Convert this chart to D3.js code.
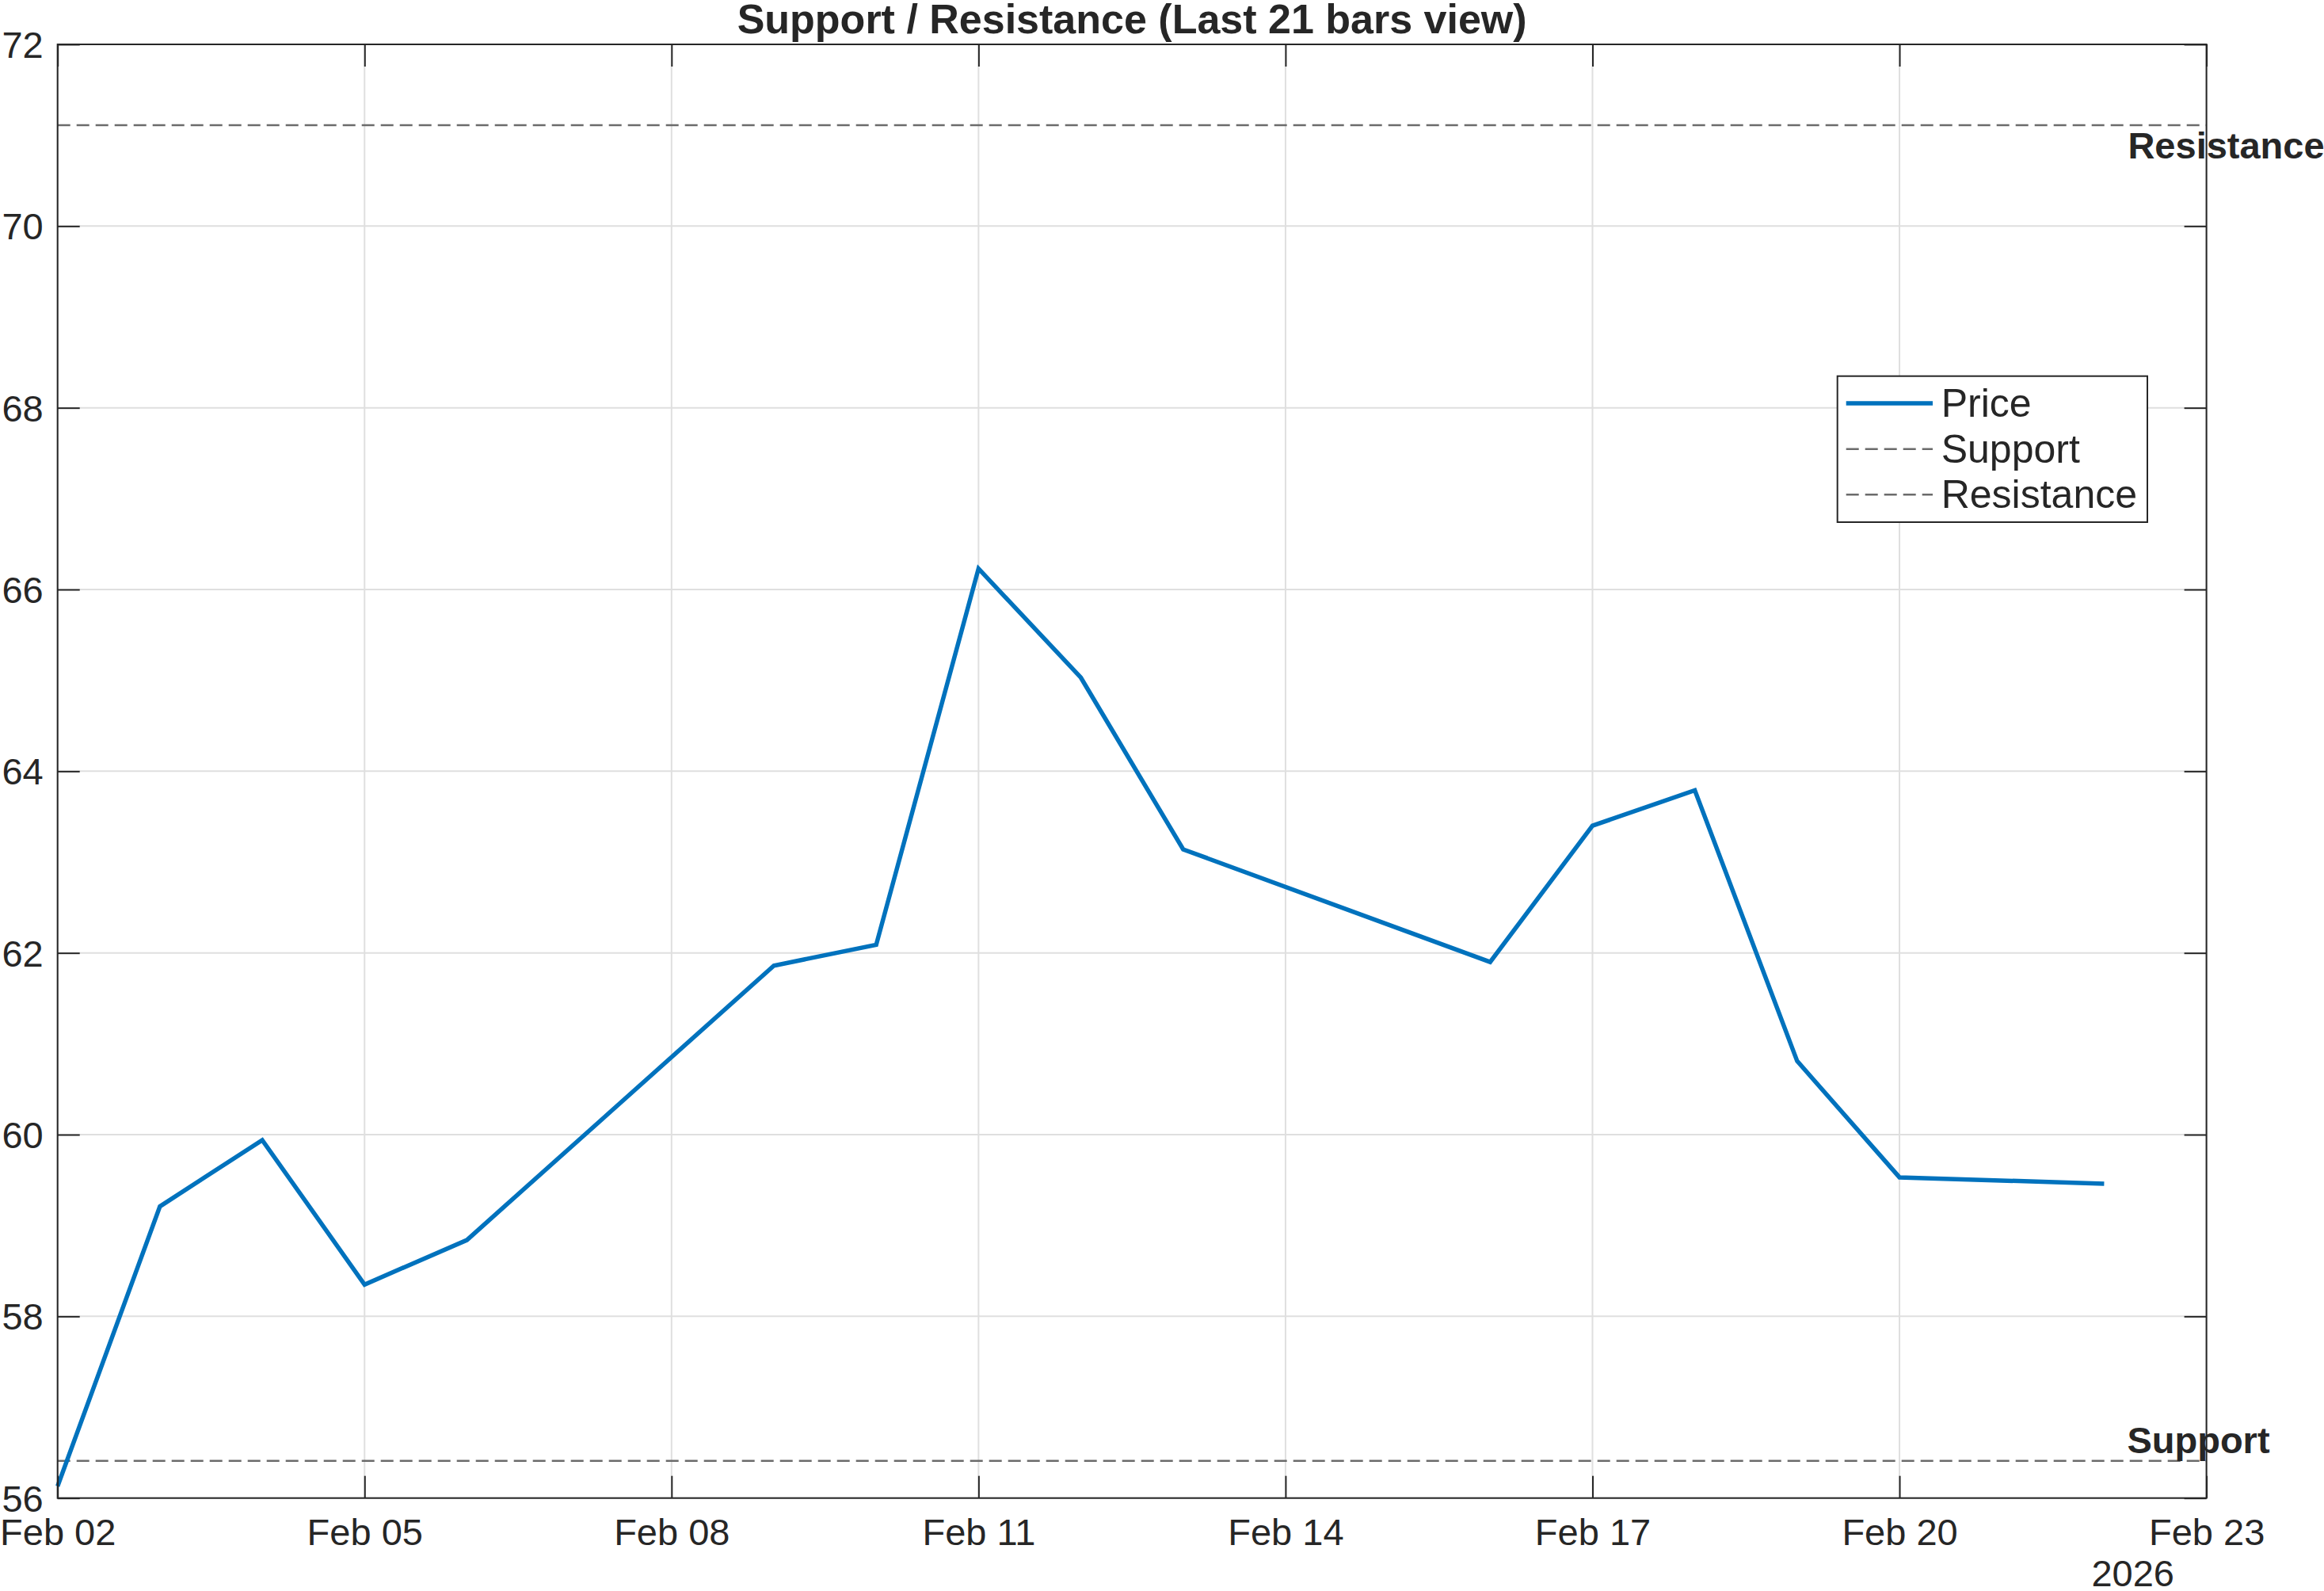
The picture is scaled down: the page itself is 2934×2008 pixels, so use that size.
<!DOCTYPE html>
<html>
<head>
<meta charset="utf-8">
<script src="https://cdn.jsdelivr.net/npm/d3@7"></script>
<style>
  html, body { margin: 0; padding: 0; background: #fff; }
  text { font-family: "Liberation Sans", Arial, Helvetica, sans-serif; fill: #262626; }
</style>
</head>
<body>
<div id="svg"></div>
<script>
// data
var dates = ["2026-02-02", "2026-02-03", "2026-02-04", "2026-02-05", "2026-02-06",
             "2026-02-09", "2026-02-10", "2026-02-11", "2026-02-12", "2026-02-13",
             "2026-02-16", "2026-02-17", "2026-02-18", "2026-02-19", "2026-02-20",
             "2026-02-22"];
var prices = [56.13, 59.21, 59.94, 58.35, 58.84,
              61.86, 62.09, 66.23, 65.03, 63.14,
              61.90, 63.40, 63.79, 60.81, 59.53,
              59.46];
var supportLevel = 56.41;
var resistanceLevel = 71.11;
var yTicks = [56, 58, 60, 62, 64, 66, 68, 70, 72];
var xTickDates = ["2026-02-02", "2026-02-05", "2026-02-08", "2026-02-11",
                  "2026-02-14", "2026-02-17", "2026-02-20", "2026-02-23"];
var xTickLabels = ["Feb 02", "Feb 05", "Feb 08", "Feb 11", "Feb 14", "Feb 17", "Feb 20", "Feb 23"];
var legendNames = ["Price", "Support", "Resistance"];

var width = 2934;    // canvas width
var height = 2008;   // canvas height
// plot box (window.top is reserved, so use other names)
var pLeft = 72.7, pRight = 2785.6, pTop = 56, pBottom = 1890.7;
var axisColor = "#262626";
var blue = "#0072BD";
var dashGray = "#6b6b6b";

var parse = d3.utcParse("%Y-%m-%d");

var svg = d3.select("#svg")
  .append("svg")
  .attr("width", width)
  .attr("height", height);

var x = d3.scaleUtc()
  .domain([parse("2026-02-02"), parse("2026-02-23")])
  .range([pLeft, pRight]);

var y = d3.scaleLinear()
  .domain([56, 72])
  .range([pBottom, pTop]);

// grid
svg.append("g")
  .selectAll("line")
  .data(xTickDates)
  .enter()
  .append("line")
  .attr("x1", function (d) { return x(parse(d)); })
  .attr("x2", function (d) { return x(parse(d)); })
  .attr("y1", pTop)
  .attr("y2", pBottom)
  .attr("stroke", "#dfdfdf")
  .attr("stroke-width", 2);

svg.append("g")
  .selectAll("line")
  .data(yTicks)
  .enter()
  .append("line")
  .attr("x1", pLeft)
  .attr("x2", pRight)
  .attr("y1", function (d) { return y(d); })
  .attr("y2", function (d) { return y(d); })
  .attr("stroke", "#dfdfdf")
  .attr("stroke-width", 2);

// support / resistance lines
svg.append("g")
  .selectAll("line")
  .data([supportLevel, resistanceLevel])
  .enter()
  .append("line")
  .attr("x1", pLeft)
  .attr("x2", pRight)
  .attr("y1", function (d) { return y(d); })
  .attr("y2", function (d) { return y(d); })
  .attr("stroke", dashGray)
  .attr("stroke-width", 2.5)
  .attr("stroke-dasharray", "16,8");

// price line
var line = d3.line()
  .x(function (d, i) { return x(parse(dates[i])); })
  .y(function (d) { return y(d); });

svg.append("path")
  .datum(prices)
  .attr("d", line)
  .attr("fill", "none")
  .attr("stroke", blue)
  .attr("stroke-width", 5.5)
  .attr("stroke-linejoin", "miter");

// axes: ticks point inward, box drawn on every side
var tickLen = 28;
var fs = 47;

svg.append("g")
  .attr("transform", "translate(0," + pBottom + ")")
  .call(d3.axisBottom(x)
    .tickValues(xTickDates.map(parse))
    .tickSizeInner(-tickLen).tickSizeOuter(0)
    .tickFormat(function (d, i) { return xTickLabels[i]; }))
  .call(function (g) {
    g.select(".domain").remove();
    g.attr("font-family", null);
    g.selectAll(".tick line").attr("stroke", axisColor).attr("stroke-width", 2);
    g.selectAll(".tick text")
      .attr("y", 59).attr("dy", 0)
      .attr("font-size", fs)
      .attr("fill", axisColor);
  });

svg.append("g")
  .attr("transform", "translate(0," + pTop + ")")
  .call(d3.axisTop(x)
    .tickValues(xTickDates.map(parse))
    .tickSizeInner(-tickLen).tickSizeOuter(0)
    .tickFormat(""))
  .call(function (g) {
    g.select(".domain").remove();
    g.selectAll(".tick line").attr("stroke", axisColor).attr("stroke-width", 2);
  });

svg.append("g")
  .attr("transform", "translate(" + pLeft + ",0)")
  .call(d3.axisLeft(y)
    .tickValues(yTicks)
    .tickSizeInner(-tickLen).tickSizeOuter(0)
    .tickFormat(d3.format("d")))
  .call(function (g) {
    g.select(".domain").remove();
    g.attr("font-family", null);
    g.selectAll(".tick line").attr("stroke", axisColor).attr("stroke-width", 2);
    g.selectAll(".tick text")
      .attr("x", -18).attr("dy", "0.35em")
      .attr("font-size", fs)
      .attr("fill", axisColor);
  });

svg.append("g")
  .attr("transform", "translate(" + pRight + ",0)")
  .call(d3.axisRight(y)
    .tickValues(yTicks)
    .tickSizeInner(-tickLen).tickSizeOuter(0)
    .tickFormat(""))
  .call(function (g) {
    g.select(".domain").remove();
    g.selectAll(".tick line").attr("stroke", axisColor).attr("stroke-width", 2);
  });

svg.append("rect")
  .attr("x", pLeft)
  .attr("y", pTop)
  .attr("width", pRight - pLeft)
  .attr("height", pBottom - pTop)
  .attr("fill", "none")
  .attr("stroke", axisColor)
  .attr("stroke-width", 2);

// year under the last tick
svg.append("text")
  .attr("x", 2745)
  .attr("y", 2002)
  .attr("text-anchor", "end")
  .attr("font-size", fs)
  .text("2026");

// title
svg.append("text")
  .attr("x", (pLeft + pRight) / 2)
  .attr("y", 42)
  .attr("text-anchor", "middle")
  .attr("font-size", 52)
  .attr("font-weight", "bold")
  .text("Support / Resistance (Last 21 bars view)");

// level labels next to the last bar
var lastX = x(parse(dates[dates.length - 1]));
svg.append("text")
  .attr("x", lastX + 30)
  .attr("y", y(resistanceLevel) + 42)
  .attr("font-size", fs)
  .attr("font-weight", "bold")
  .text("Resistance");

svg.append("text")
  .attr("x", lastX + 29)
  .attr("y", y(supportLevel) - 10)
  .attr("font-size", fs)
  .attr("font-weight", "bold")
  .text("Support");

// legend
var legend = svg.append("g")
  .attr("transform", "translate(2319.7,474.7)");

legend.append("rect")
  .attr("width", 391.3)
  .attr("height", 184.3)
  .attr("fill", "#fff")
  .attr("stroke", axisColor)
  .attr("stroke-width", 2);

var rowY = [34.3, 92, 149.6];
var rows = legend.selectAll("g.row")
  .data(legendNames)
  .enter()
  .append("g")
  .attr("class", "row")
  .attr("transform", function (d, i) { return "translate(0," + rowY[i] + ")"; });

rows.append("line")
  .attr("x1", 11)
  .attr("x2", 120.3)
  .attr("stroke", function (d, i) { return i === 0 ? blue : dashGray; })
  .attr("stroke-width", function (d, i) { return i === 0 ? 5.5 : 2.5; })
  .attr("stroke-dasharray", function (d, i) { return i === 0 ? null : "16,8"; });

rows.append("text")
  .attr("x", 131)
  .attr("y", 17)
  .attr("font-size", 50)
  .text(function (d) { return d; });
</script>
</body>
</html>
